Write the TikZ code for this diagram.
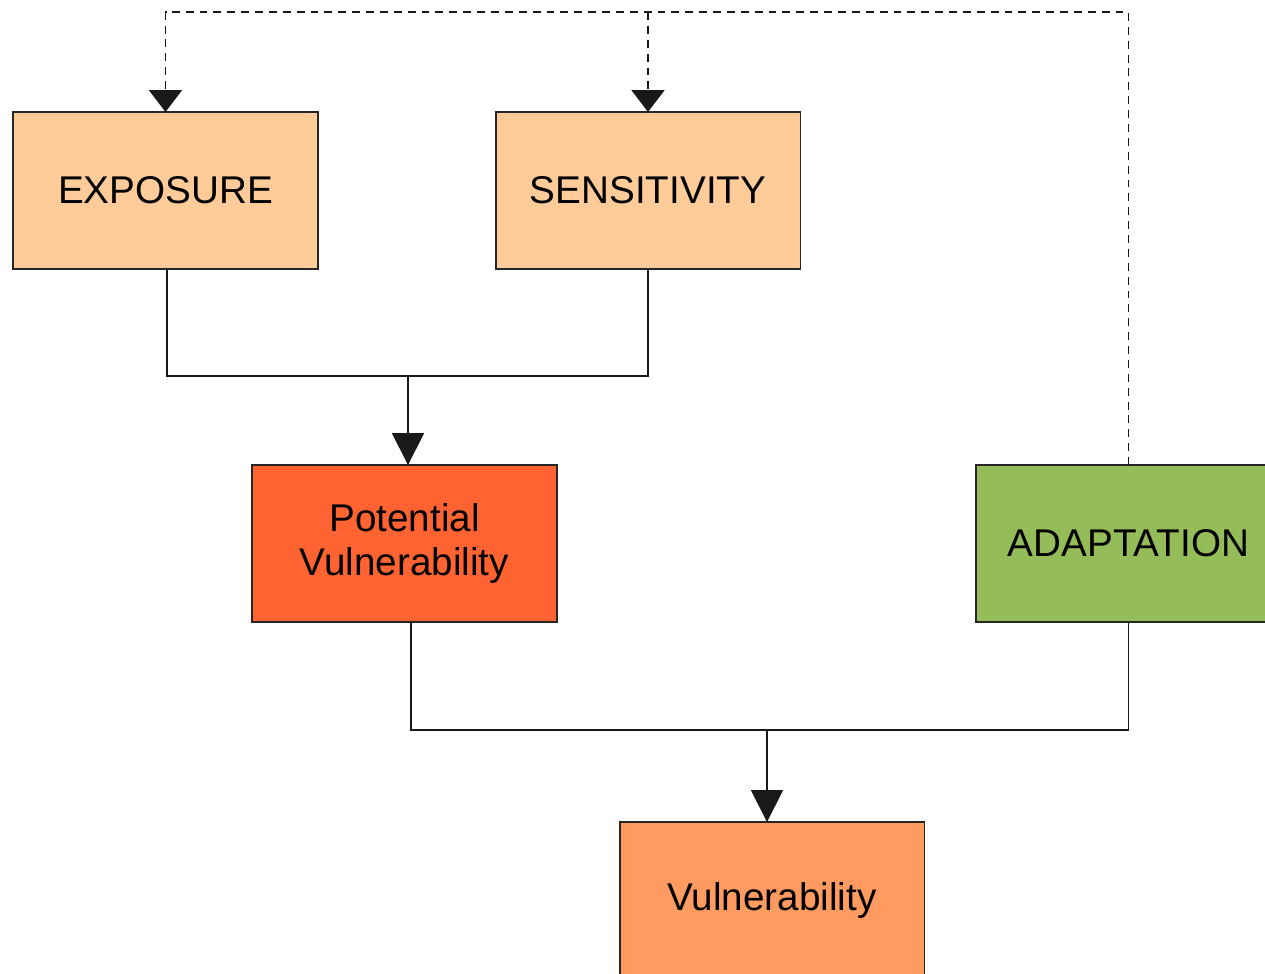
\documentclass[tikz,border=0pt]{standalone}
\usepackage{fontspec}
\setmainfont{Liberation Sans}
\usepackage{tikz}
\usetikzlibrary{arrows.meta,calc}
\definecolor{peach}{HTML}{FFCC99}
\definecolor{redorange}{HTML}{FF6331}
\definecolor{leafgreen}{HTML}{94BD5A}
\definecolor{salmon}{HTML}{FF9A60}

\tikzset{
  factor/.style={rectangle,draw=black!85,line width=1.1pt,minimum width=6.1cm,
    minimum height=3.14cm,inner sep=0pt,outer sep=0pt,align=center,
    font=\fontsize{22}{24.5}\selectfont},
  link/.style={line width=1.05pt,black!90},
  flow/.style={link,-{Triangle[length=0.64cm,width=0.64cm]}},
  feedback/.style={link,dash pattern=on 4.5pt off 3.4pt,
    -{Triangle[length=0.44cm,width=0.66cm]}}
}

\begin{document}
\begin{tikzpicture}[x=0.02cm,y=-0.02cm]
        \useasboundingbox (0,0) rectangle (1265,974);
        \node[factor,fill=peach] (exposure) at (165.5,190.5){EXPOSURE};
        \node[factor,fill=peach] (sensitivity) at (648,190.5){SENSITIVITY};
        \node[factor,fill=redorange] (potential) at (404.5,543.5){Potential\\Vulnerability};
        \node[factor,fill=leafgreen] (adaptation) at (1128.5,543.5){ADAPTATION};
        \node[factor,fill=salmon] (vulnerability) at (772,900.5){Vulnerability};
        \coordinate (j1) at (408,376);
        \coordinate (j2) at (767,730);
        \coordinate (top) at (650,12);
        \coordinate (p1) at (167,0);
        \coordinate (p2) at (411,0);
        \draw[link] (p1 |- exposure.south) |- (sensitivity.south |- j1) -- (sensitivity.south);
        \draw[flow] (j1) -- (j1 |- potential.north);
        \draw[link] (p2 |- potential.south) |- (adaptation.south |- j2) -- (adaptation.south);
        \draw[flow] (j2) -- (j2 |- vulnerability.north);
        \draw[feedback] (adaptation.north) |- (exposure.north |- top) -- (exposure.north);
        \draw[feedback] (sensitivity.north |- top) -- (sensitivity.north);
        \end{tikzpicture}
\end{document}
